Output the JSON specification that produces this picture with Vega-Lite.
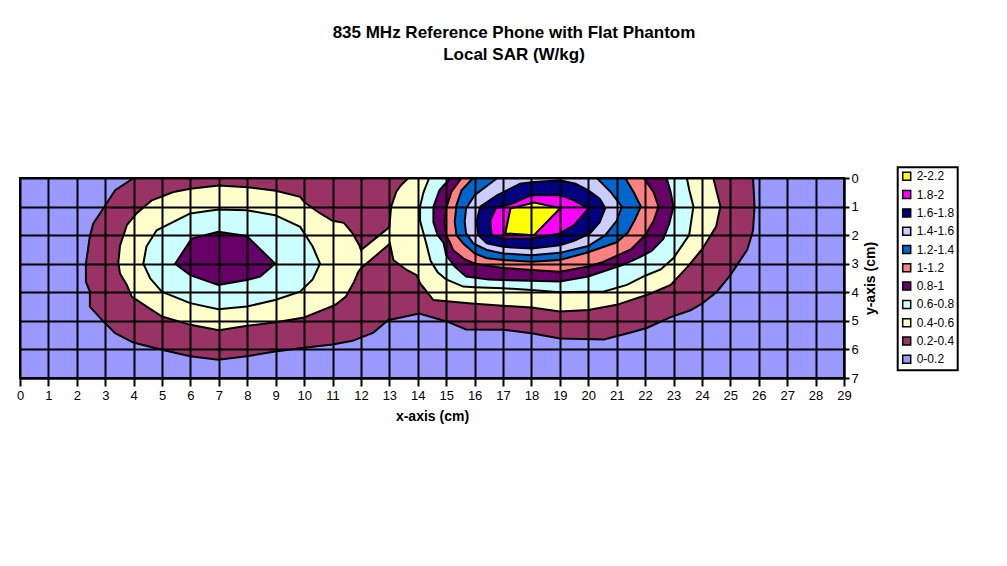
{
  "$schema": "https://vega.github.io/schema/vega-lite/v6.json",
  "width": 824,
  "height": 200,
  "autosize": "none",
  "padding": {"left": 20, "top": 178, "right": 163, "bottom": 188},
  "background": "white",
  "config": {"view": {"stroke": null}},
  "title": {
    "text": ["835 MHz Reference Phone with Flat Phantom", "Local SAR (W/kg)"],
    "font": "Liberation Sans", "fontSize": 17, "fontWeight": "bold", "color": "black",
    "anchor": "middle", "frame": "group", "offset": 102, "dx": 82, "lineHeight": 22
  },
  "data": {"values": [
    {"p":"p00","b":"0-0.2","i":0,"x":0,"y":0},{"p":"p00","b":"0-0.2","i":1,"x":29,"y":0},{"p":"p00","b":"0-0.2","i":2,"x":29,"y":7},{"p":"p00","b":"0-0.2","i":3,"x":0,"y":7},

    {"p":"p01","b":"0.2-0.4","i":0,"x":4.0,"y":0},{"p":"p01","b":"0.2-0.4","i":1,"x":3.35,"y":0.43},{"p":"p01","b":"0.2-0.4","i":2,"x":2.93,"y":1.07},{"p":"p01","b":"0.2-0.4","i":3,"x":2.58,"y":1.59},{"p":"p01","b":"0.2-0.4","i":4,"x":2.46,"y":2.03},{"p":"p01","b":"0.2-0.4","i":5,"x":2.32,"y":3.0},{"p":"p01","b":"0.2-0.4","i":6,"x":2.32,"y":3.63},{"p":"p01","b":"0.2-0.4","i":7,"x":2.46,"y":3.98},{"p":"p01","b":"0.2-0.4","i":8,"x":2.46,"y":4.5},{"p":"p01","b":"0.2-0.4","i":9,"x":2.93,"y":5.02},{"p":"p01","b":"0.2-0.4","i":10,"x":3.35,"y":5.43},{"p":"p01","b":"0.2-0.4","i":11,"x":3.99,"y":5.76},{"p":"p01","b":"0.2-0.4","i":12,"x":4.99,"y":6.01},{"p":"p01","b":"0.2-0.4","i":13,"x":5.99,"y":6.24},{"p":"p01","b":"0.2-0.4","i":14,"x":6.98,"y":6.36},{"p":"p01","b":"0.2-0.4","i":15,"x":7.98,"y":6.24},{"p":"p01","b":"0.2-0.4","i":16,"x":8.98,"y":6.07},{"p":"p01","b":"0.2-0.4","i":17,"x":10,"y":5.94},{"p":"p01","b":"0.2-0.4","i":18,"x":11,"y":5.83},{"p":"p01","b":"0.2-0.4","i":19,"x":11.7,"y":5.7},{"p":"p01","b":"0.2-0.4","i":20,"x":12.44,"y":5.41},{"p":"p01","b":"0.2-0.4","i":21,"x":12.95,"y":4.98},{"p":"p01","b":"0.2-0.4","i":22,"x":14.05,"y":4.74},{"p":"p01","b":"0.2-0.4","i":23,"x":15.02,"y":5.02},{"p":"p01","b":"0.2-0.4","i":24,"x":15.7,"y":5.3},{"p":"p01","b":"0.2-0.4","i":25,"x":17,"y":5.31},{"p":"p01","b":"0.2-0.4","i":26,"x":18,"y":5.43},{"p":"p01","b":"0.2-0.4","i":27,"x":19,"y":5.62},{"p":"p01","b":"0.2-0.4","i":28,"x":20.55,"y":5.65},{"p":"p01","b":"0.2-0.4","i":29,"x":21.5,"y":5.41},{"p":"p01","b":"0.2-0.4","i":30,"x":22.08,"y":5.24},{"p":"p01","b":"0.2-0.4","i":31,"x":22.9,"y":4.87},{"p":"p01","b":"0.2-0.4","i":32,"x":23.6,"y":4.63},{"p":"p01","b":"0.2-0.4","i":33,"x":24.0,"y":4.4},{"p":"p01","b":"0.2-0.4","i":34,"x":24.52,"y":3.99},{"p":"p01","b":"0.2-0.4","i":35,"x":25.0,"y":3.4},{"p":"p01","b":"0.2-0.4","i":36,"x":25.6,"y":2.5},{"p":"p01","b":"0.2-0.4","i":37,"x":25.8,"y":1.83},{"p":"p01","b":"0.2-0.4","i":38,"x":25.85,"y":1.0},{"p":"p01","b":"0.2-0.4","i":39,"x":25.8,"y":0},

    {"p":"p02","b":"0.4-0.6","i":0,"x":3.46,"y":2.96},{"p":"p02","b":"0.4-0.6","i":1,"x":3.52,"y":2.37},{"p":"p02","b":"0.4-0.6","i":2,"x":3.76,"y":1.65},{"p":"p02","b":"0.4-0.6","i":3,"x":4.11,"y":1.23},{"p":"p02","b":"0.4-0.6","i":4,"x":4.64,"y":0.78},{"p":"p02","b":"0.4-0.6","i":5,"x":5.4,"y":0.49},{"p":"p02","b":"0.4-0.6","i":6,"x":6,"y":0.38},{"p":"p02","b":"0.4-0.6","i":7,"x":7,"y":0.26},{"p":"p02","b":"0.4-0.6","i":8,"x":8,"y":0.32},{"p":"p02","b":"0.4-0.6","i":9,"x":9,"y":0.45},{"p":"p02","b":"0.4-0.6","i":10,"x":9.86,"y":0.66},{"p":"p02","b":"0.4-0.6","i":11,"x":10,"y":0.84},{"p":"p02","b":"0.4-0.6","i":12,"x":10.5,"y":1.2},{"p":"p02","b":"0.4-0.6","i":13,"x":11,"y":1.5},{"p":"p02","b":"0.4-0.6","i":14,"x":11.4,"y":1.57},{"p":"p02","b":"0.4-0.6","i":15,"x":11.7,"y":1.93},{"p":"p02","b":"0.4-0.6","i":16,"x":11.94,"y":2.35},{"p":"p02","b":"0.4-0.6","i":17,"x":12,"y":2.52},{"p":"p02","b":"0.4-0.6","i":18,"x":13,"y":1.72},{"p":"p02","b":"0.4-0.6","i":19,"x":13.06,"y":1.01},{"p":"p02","b":"0.4-0.6","i":20,"x":13.24,"y":0.49},{"p":"p02","b":"0.4-0.6","i":21,"x":13.4,"y":0.26},{"p":"p02","b":"0.4-0.6","i":22,"x":13.67,"y":0},{"p":"p02","b":"0.4-0.6","i":23,"x":24.4,"y":0},{"p":"p02","b":"0.4-0.6","i":24,"x":24.65,"y":1.0},{"p":"p02","b":"0.4-0.6","i":25,"x":24.5,"y":1.7},{"p":"p02","b":"0.4-0.6","i":26,"x":24.0,"y":2.5},{"p":"p02","b":"0.4-0.6","i":27,"x":23.5,"y":3.1},{"p":"p02","b":"0.4-0.6","i":28,"x":22.9,"y":3.74},{"p":"p02","b":"0.4-0.6","i":29,"x":22.18,"y":4.05},{"p":"p02","b":"0.4-0.6","i":30,"x":21,"y":4.44},{"p":"p02","b":"0.4-0.6","i":31,"x":20,"y":4.62},{"p":"p02","b":"0.4-0.6","i":32,"x":19,"y":4.67},{"p":"p02","b":"0.4-0.6","i":33,"x":18,"y":4.53},{"p":"p02","b":"0.4-0.6","i":34,"x":17,"y":4.47},{"p":"p02","b":"0.4-0.6","i":35,"x":16,"y":4.4},{"p":"p02","b":"0.4-0.6","i":36,"x":14.55,"y":4.27},{"p":"p02","b":"0.4-0.6","i":37,"x":14.08,"y":3.68},{"p":"p02","b":"0.4-0.6","i":38,"x":13.96,"y":3.4},{"p":"p02","b":"0.4-0.6","i":39,"x":13.61,"y":3.22},{"p":"p02","b":"0.4-0.6","i":40,"x":13.14,"y":2.87},{"p":"p02","b":"0.4-0.6","i":41,"x":13.02,"y":2.3},{"p":"p02","b":"0.4-0.6","i":42,"x":12,"y":3.16},{"p":"p02","b":"0.4-0.6","i":43,"x":11.9,"y":3.3},{"p":"p02","b":"0.4-0.6","i":44,"x":11.76,"y":3.63},{"p":"p02","b":"0.4-0.6","i":45,"x":11.47,"y":4.15},{"p":"p02","b":"0.4-0.6","i":46,"x":11.1,"y":4.44},{"p":"p02","b":"0.4-0.6","i":47,"x":10,"y":4.88},{"p":"p02","b":"0.4-0.6","i":48,"x":9,"y":5.05},{"p":"p02","b":"0.4-0.6","i":49,"x":8,"y":5.17},{"p":"p02","b":"0.4-0.6","i":50,"x":7,"y":5.33},{"p":"p02","b":"0.4-0.6","i":51,"x":6,"y":5.14},{"p":"p02","b":"0.4-0.6","i":52,"x":5,"y":4.85},{"p":"p02","b":"0.4-0.6","i":53,"x":4.46,"y":4.5},{"p":"p02","b":"0.4-0.6","i":54,"x":3.93,"y":4.15},{"p":"p02","b":"0.4-0.6","i":55,"x":3.76,"y":3.74},{"p":"p02","b":"0.4-0.6","i":56,"x":3.52,"y":3.34},

    {"p":"p03","b":"0.6-0.8","i":0,"x":4.34,"y":3.0},{"p":"p03","b":"0.6-0.8","i":1,"x":4.45,"y":2.4},{"p":"p03","b":"0.6-0.8","i":2,"x":4.81,"y":1.83},{"p":"p03","b":"0.6-0.8","i":3,"x":5.99,"y":1.24},{"p":"p03","b":"0.6-0.8","i":4,"x":6.98,"y":1.1},{"p":"p03","b":"0.6-0.8","i":5,"x":7.98,"y":1.13},{"p":"p03","b":"0.6-0.8","i":6,"x":8.98,"y":1.3},{"p":"p03","b":"0.6-0.8","i":7,"x":9.86,"y":1.71},{"p":"p03","b":"0.6-0.8","i":8,"x":10.3,"y":2.4},{"p":"p03","b":"0.6-0.8","i":9,"x":10.56,"y":3.0},{"p":"p03","b":"0.6-0.8","i":10,"x":10.3,"y":3.55},{"p":"p03","b":"0.6-0.8","i":11,"x":9.86,"y":3.98},{"p":"p03","b":"0.6-0.8","i":12,"x":8.98,"y":4.27},{"p":"p03","b":"0.6-0.8","i":13,"x":7.98,"y":4.5},{"p":"p03","b":"0.6-0.8","i":14,"x":6.98,"y":4.59},{"p":"p03","b":"0.6-0.8","i":15,"x":5.99,"y":4.38},{"p":"p03","b":"0.6-0.8","i":16,"x":4.99,"y":3.98},{"p":"p03","b":"0.6-0.8","i":17,"x":4.58,"y":3.51},

    {"p":"p04","b":"0.6-0.8","i":0,"x":14.4,"y":0},{"p":"p04","b":"0.6-0.8","i":1,"x":14.2,"y":0.5},{"p":"p04","b":"0.6-0.8","i":2,"x":14.08,"y":1.0},{"p":"p04","b":"0.6-0.8","i":3,"x":14.08,"y":1.5},{"p":"p04","b":"0.6-0.8","i":4,"x":14.3,"y":2.3},{"p":"p04","b":"0.6-0.8","i":5,"x":14.45,"y":2.9},{"p":"p04","b":"0.6-0.8","i":6,"x":14.7,"y":3.3},{"p":"p04","b":"0.6-0.8","i":7,"x":15.0,"y":3.55},{"p":"p04","b":"0.6-0.8","i":8,"x":15.6,"y":3.8},{"p":"p04","b":"0.6-0.8","i":9,"x":16,"y":3.82},{"p":"p04","b":"0.6-0.8","i":10,"x":17,"y":3.86},{"p":"p04","b":"0.6-0.8","i":11,"x":18,"y":3.92},{"p":"p04","b":"0.6-0.8","i":12,"x":19,"y":4.0},{"p":"p04","b":"0.6-0.8","i":13,"x":20,"y":3.98},{"p":"p04","b":"0.6-0.8","i":14,"x":20.53,"y":3.98},{"p":"p04","b":"0.6-0.8","i":15,"x":21.36,"y":3.74},{"p":"p04","b":"0.6-0.8","i":16,"x":22.0,"y":3.42},{"p":"p04","b":"0.6-0.8","i":17,"x":22.55,"y":3.2},{"p":"p04","b":"0.6-0.8","i":18,"x":23.0,"y":2.8},{"p":"p04","b":"0.6-0.8","i":19,"x":23.55,"y":2.0},{"p":"p04","b":"0.6-0.8","i":20,"x":23.7,"y":1.0},{"p":"p04","b":"0.6-0.8","i":21,"x":23.55,"y":0.4},{"p":"p04","b":"0.6-0.8","i":22,"x":23.47,"y":0},

    {"p":"p05","b":"0.8-1","i":0,"x":5.46,"y":3.0},{"p":"p05","b":"0.8-1","i":1,"x":6.04,"y":2.12},{"p":"p05","b":"0.8-1","i":2,"x":6.98,"y":1.88},{"p":"p05","b":"0.8-1","i":3,"x":7.98,"y":2.03},{"p":"p05","b":"0.8-1","i":4,"x":8.98,"y":3.0},{"p":"p05","b":"0.8-1","i":5,"x":8.45,"y":3.45},{"p":"p05","b":"0.8-1","i":6,"x":7.98,"y":3.57},{"p":"p05","b":"0.8-1","i":7,"x":6.98,"y":3.74},{"p":"p05","b":"0.8-1","i":8,"x":5.99,"y":3.4},

    {"p":"p06","b":"0.8-1","i":0,"x":15.15,"y":0},{"p":"p06","b":"0.8-1","i":1,"x":14.76,"y":0.43},{"p":"p06","b":"0.8-1","i":2,"x":14.55,"y":1.0},{"p":"p06","b":"0.8-1","i":3,"x":14.55,"y":1.55},{"p":"p06","b":"0.8-1","i":4,"x":14.7,"y":2.0},{"p":"p06","b":"0.8-1","i":5,"x":14.9,"y":2.25},{"p":"p06","b":"0.8-1","i":6,"x":15.0,"y":2.7},{"p":"p06","b":"0.8-1","i":7,"x":15.3,"y":3.1},{"p":"p06","b":"0.8-1","i":8,"x":15.7,"y":3.45},{"p":"p06","b":"0.8-1","i":9,"x":16.5,"y":3.55},{"p":"p06","b":"0.8-1","i":10,"x":17,"y":3.57},{"p":"p06","b":"0.8-1","i":11,"x":18,"y":3.6},{"p":"p06","b":"0.8-1","i":12,"x":19,"y":3.62},{"p":"p06","b":"0.8-1","i":13,"x":20,"y":3.45},{"p":"p06","b":"0.8-1","i":14,"x":21.2,"y":3.05},{"p":"p06","b":"0.8-1","i":15,"x":21.82,"y":2.77},{"p":"p06","b":"0.8-1","i":16,"x":22.23,"y":2.55},{"p":"p06","b":"0.8-1","i":17,"x":22.64,"y":2.13},{"p":"p06","b":"0.8-1","i":18,"x":22.85,"y":1.6},{"p":"p06","b":"0.8-1","i":19,"x":23.0,"y":1.0},{"p":"p06","b":"0.8-1","i":20,"x":22.9,"y":0.5},{"p":"p06","b":"0.8-1","i":21,"x":22.76,"y":0},

    {"p":"p07","b":"1-1.2","i":0,"x":15.54,"y":0},{"p":"p07","b":"1-1.2","i":1,"x":15.18,"y":0.49},{"p":"p07","b":"1-1.2","i":2,"x":15.0,"y":1.07},{"p":"p07","b":"1-1.2","i":3,"x":14.94,"y":1.53},{"p":"p07","b":"1-1.2","i":4,"x":15.0,"y":2.0},{"p":"p07","b":"1-1.2","i":5,"x":15.12,"y":2.23},{"p":"p07","b":"1-1.2","i":6,"x":15.24,"y":2.52},{"p":"p07","b":"1-1.2","i":7,"x":15.6,"y":2.81},{"p":"p07","b":"1-1.2","i":8,"x":16.0,"y":3.0},{"p":"p07","b":"1-1.2","i":9,"x":17,"y":3.15},{"p":"p07","b":"1-1.2","i":10,"x":18,"y":3.22},{"p":"p07","b":"1-1.2","i":11,"x":19,"y":3.28},{"p":"p07","b":"1-1.2","i":12,"x":20,"y":3.1},{"p":"p07","b":"1-1.2","i":13,"x":20.5,"y":2.95},{"p":"p07","b":"1-1.2","i":14,"x":21.5,"y":2.5},{"p":"p07","b":"1-1.2","i":15,"x":22.0,"y":2.0},{"p":"p07","b":"1-1.2","i":16,"x":22.3,"y":1.5},{"p":"p07","b":"1-1.2","i":17,"x":22.47,"y":1.0},{"p":"p07","b":"1-1.2","i":18,"x":22.3,"y":0.5},{"p":"p07","b":"1-1.2","i":19,"x":21.95,"y":0},

    {"p":"p08","b":"1.2-1.4","i":0,"x":15.95,"y":0},{"p":"p08","b":"1.2-1.4","i":1,"x":15.54,"y":0.43},{"p":"p08","b":"1.2-1.4","i":2,"x":15.36,"y":0.95},{"p":"p08","b":"1.2-1.4","i":3,"x":15.3,"y":1.53},{"p":"p08","b":"1.2-1.4","i":4,"x":15.36,"y":2.0},{"p":"p08","b":"1.2-1.4","i":5,"x":15.6,"y":2.29},{"p":"p08","b":"1.2-1.4","i":6,"x":16.0,"y":2.64},{"p":"p08","b":"1.2-1.4","i":7,"x":16.43,"y":2.81},{"p":"p08","b":"1.2-1.4","i":8,"x":17,"y":2.87},{"p":"p08","b":"1.2-1.4","i":9,"x":18,"y":2.93},{"p":"p08","b":"1.2-1.4","i":10,"x":19,"y":2.87},{"p":"p08","b":"1.2-1.4","i":11,"x":20,"y":2.6},{"p":"p08","b":"1.2-1.4","i":12,"x":21,"y":2.25},{"p":"p08","b":"1.2-1.4","i":13,"x":21.4,"y":1.9},{"p":"p08","b":"1.2-1.4","i":14,"x":21.65,"y":1.45},{"p":"p08","b":"1.2-1.4","i":15,"x":21.85,"y":1.0},{"p":"p08","b":"1.2-1.4","i":16,"x":21.6,"y":0.5},{"p":"p08","b":"1.2-1.4","i":17,"x":21.3,"y":0},

    {"p":"p09","b":"1.4-1.6","i":0,"x":16.8,"y":0},{"p":"p09","b":"1.4-1.6","i":1,"x":16.0,"y":0.6},{"p":"p09","b":"1.4-1.6","i":2,"x":15.7,"y":1.07},{"p":"p09","b":"1.4-1.6","i":3,"x":15.65,"y":1.53},{"p":"p09","b":"1.4-1.6","i":4,"x":15.7,"y":1.94},{"p":"p09","b":"1.4-1.6","i":5,"x":15.95,"y":2.29},{"p":"p09","b":"1.4-1.6","i":6,"x":16.43,"y":2.52},{"p":"p09","b":"1.4-1.6","i":7,"x":17,"y":2.64},{"p":"p09","b":"1.4-1.6","i":8,"x":18,"y":2.7},{"p":"p09","b":"1.4-1.6","i":9,"x":19,"y":2.62},{"p":"p09","b":"1.4-1.6","i":10,"x":20,"y":2.38},{"p":"p09","b":"1.4-1.6","i":11,"x":20.6,"y":2.0},{"p":"p09","b":"1.4-1.6","i":12,"x":21.0,"y":1.5},{"p":"p09","b":"1.4-1.6","i":13,"x":21.18,"y":1.0},{"p":"p09","b":"1.4-1.6","i":14,"x":20.8,"y":0.5},{"p":"p09","b":"1.4-1.6","i":15,"x":20.3,"y":0},

    {"p":"p10","b":"1.6-1.8","i":0,"x":16.07,"y":1.5},{"p":"p10","b":"1.6-1.8","i":1,"x":16.2,"y":1.0},{"p":"p10","b":"1.6-1.8","i":2,"x":16.8,"y":0.6},{"p":"p10","b":"1.6-1.8","i":3,"x":17.6,"y":0.2},{"p":"p10","b":"1.6-1.8","i":4,"x":18,"y":0.15},{"p":"p10","b":"1.6-1.8","i":5,"x":19,"y":0.08},{"p":"p10","b":"1.6-1.8","i":6,"x":19.55,"y":0.2},{"p":"p10","b":"1.6-1.8","i":7,"x":20.0,"y":0.43},{"p":"p10","b":"1.6-1.8","i":8,"x":20.4,"y":0.72},{"p":"p10","b":"1.6-1.8","i":9,"x":20.6,"y":1.05},{"p":"p10","b":"1.6-1.8","i":10,"x":20.4,"y":1.55},{"p":"p10","b":"1.6-1.8","i":11,"x":20.05,"y":1.95},{"p":"p10","b":"1.6-1.8","i":12,"x":19.5,"y":2.2},{"p":"p10","b":"1.6-1.8","i":13,"x":19.0,"y":2.35},{"p":"p10","b":"1.6-1.8","i":14,"x":18,"y":2.47},{"p":"p10","b":"1.6-1.8","i":15,"x":17,"y":2.41},{"p":"p10","b":"1.6-1.8","i":16,"x":16.43,"y":2.29},{"p":"p10","b":"1.6-1.8","i":17,"x":16.13,"y":2.0},

    {"p":"p11","b":"1.8-2","i":0,"x":16.55,"y":1.5},{"p":"p11","b":"1.8-2","i":1,"x":16.75,"y":1.05},{"p":"p11","b":"1.8-2","i":2,"x":17.3,"y":0.9},{"p":"p11","b":"1.8-2","i":3,"x":18,"y":0.6},{"p":"p11","b":"1.8-2","i":4,"x":19,"y":0.6},{"p":"p11","b":"1.8-2","i":5,"x":19.5,"y":0.78},{"p":"p11","b":"1.8-2","i":6,"x":20,"y":1.07},{"p":"p11","b":"1.8-2","i":7,"x":19.5,"y":1.65},{"p":"p11","b":"1.8-2","i":8,"x":19.0,"y":1.94},{"p":"p11","b":"1.8-2","i":9,"x":18,"y":2.12},{"p":"p11","b":"1.8-2","i":10,"x":17,"y":2.12},{"p":"p11","b":"1.8-2","i":11,"x":16.6,"y":2.0},

    {"p":"p12","b":"2-2.2","i":0,"x":17.26,"y":1.07},{"p":"p12","b":"2-2.2","i":1,"x":18.09,"y":0.86},{"p":"p12","b":"2-2.2","i":2,"x":19.02,"y":1.05},{"p":"p12","b":"2-2.2","i":3,"x":18.09,"y":2.0},{"p":"p12","b":"2-2.2","i":4,"x":17.08,"y":1.94}
  ]},
  "mark": {"type": "line", "filled": true, "interpolate": "linear-closed", "stroke": "black", "strokeWidth": 2, "strokeJoin": "miter"},
  "encoding": {
    "x": {"field": "x", "type": "quantitative",
      "scale": {"domain": [0, 29], "nice": false, "zero": false},
      "axis": {"orient": "bottom", "values": [0,1,2,3,4,5,6,7,8,9,10,11,12,13,14,15,16,17,18,19,20,21,22,23,24,25,26,27,28,29],
        "grid": true, "gridColor": "black", "gridWidth": 2, "gridOpacity": 1,
        "domainColor": "black", "domainWidth": 2, "tickColor": "black", "tickWidth": 2, "tickSize": 8,
        "labelFont": "Liberation Sans", "labelFontSize": 13, "labelColor": "black", "labelPadding": 3, "labelFlush": false, "labelOverlap": false,
        "title": "x-axis (cm)", "titleFont": "Liberation Sans", "titleFontSize": 14, "titleFontWeight": "bold", "titleColor": "black", "titlePadding": 7, "zindex": 1}},
    "y": {"field": "y", "type": "quantitative",
      "scale": {"domain": [0, 7], "nice": false, "zero": false, "reverse": true},
      "axis": {"orient": "right", "values": [0,1,2,3,4,5,6,7],
        "grid": true, "gridColor": "black", "gridWidth": 2, "gridOpacity": 1,
        "domainColor": "black", "domainWidth": 2, "tickColor": "black", "tickWidth": 2, "tickSize": 5,
        "labelFont": "Liberation Sans", "labelFontSize": 13, "labelColor": "black", "labelPadding": 2, "labelFlush": false, "labelOverlap": false,
        "title": "y-axis (cm)", "titleFont": "Liberation Sans", "titleFontSize": 14, "titleFontWeight": "bold", "titleColor": "black", "titlePadding": 19, "titleAngle": 270, "zindex": 1}},
    "detail": {"field": "p", "type": "nominal"},
    "order": {"field": "i", "type": "quantitative"},
    "fill": {"field": "b", "type": "nominal",
      "scale": {"domain": ["2-2.2","1.8-2","1.6-1.8","1.4-1.6","1.2-1.4","1-1.2","0.8-1","0.6-0.8","0.4-0.6","0.2-0.4","0-0.2"],
        "range": ["#FFFF00","#FF00FF","#000080","#CCCCFF","#0066CC","#FF8080","#660066","#CCFFFF","#FFFFCC","#993366","#9999FF"]},
      "legend": {"orient": "none", "legendX": 877.7, "legendY": -10.7, "title": null,
        "symbolType": "square", "symbolSize": 64, "symbolStrokeColor": "black", "symbolStrokeWidth": 1.5,
        "labelFont": "Liberation Sans", "labelFontSize": 12, "labelColor": "black", "labelOffset": 4,
        "rowPadding": 4.3, "padding": 3, "strokeColor": "black", "fillColor": "white",
        "encode": {"symbols": {"update": {"fill": {"scale": "fill", "field": "value"}, "stroke": {"value": "black"}, "strokeWidth": {"value": 1.5}, "opacity": {"value": 1}}},
                   "legend": {"update": {"strokeWidth": {"value": 2}}}}}}
  }
}
